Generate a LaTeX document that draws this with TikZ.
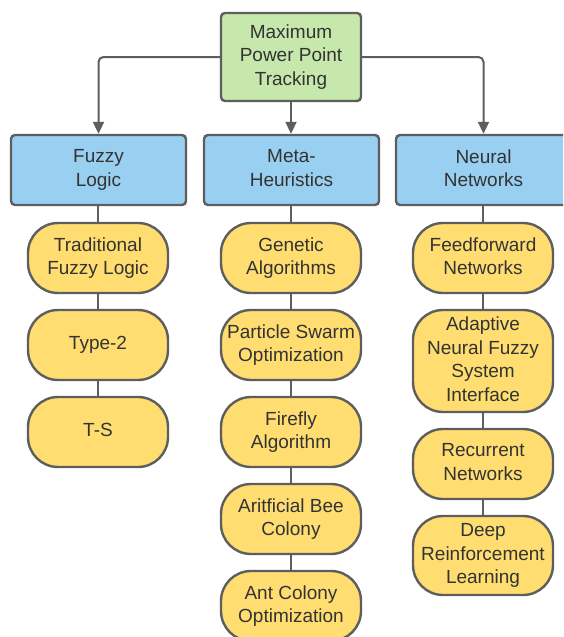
\documentclass[tikz,border=0pt]{standalone}
\usepackage{fontspec}
\setmainfont{Liberation Sans}
\usetikzlibrary{arrows.meta}
\definecolor{rootfill}{HTML}{C7E8AC}
\definecolor{catfill}{HTML}{99D0F2}
\definecolor{leaffill}{HTML}{FFDD71}
\definecolor{edge}{HTML}{5E5E5E}
\definecolor{txt}{HTML}{333333}
\begin{document}
\begin{tikzpicture}[x=1pt,y=-1pt,
  box/.style={draw=edge, line width=2.4pt, align=center, inner sep=0pt,
    text=txt, font=\fontsize{19}{23.5}\selectfont,
    execute at end node={\vphantom{g}}},
  rootbox/.style={box, fill=rootfill, minimum width=140pt, minimum height=88pt, rounded corners=4pt},
  catbox/.style={box, fill=catfill, minimum width=175pt, minimum height=70pt, rounded corners=4pt},
  leafbox/.style={box, fill=leaffill, minimum width=140pt, minimum height=70pt, rounded corners=30pt},
  conn/.style={draw=edge, line width=2pt, rounded corners=5pt},
  arr/.style={conn, -{Triangle[length=12pt, width=11pt]}}
]
\clip (0,0) rectangle (563,637);
\useasboundingbox (0,0) rectangle (563,637);
\fill[white] (0,0) rectangle (563,637);

\node[rootbox] (root) at (291,57) {Maximum\\Power Point\\Tracking};

\node[catbox] (fl) at (98.5,170) {Fuzzy\\Logic};
\node[catbox] (mh) at (291.5,170) {Meta-\\Heuristics};
\node[catbox] (nn) at (483.5,170) {Neural\\Networks};

\node[leafbox] (f1) at (98,258) {Traditional\\Fuzzy Logic};
\node[leafbox] (f2) at (98,345) {Type-2};
\node[leafbox] (f3) at (98,432) {T-S};

\node[leafbox] (m1) at (291,258) {Genetic\\Algorithms};
\node[leafbox] (m2) at (291,345) {Particle Swarm\\Optimization};
\node[leafbox] (m3) at (291,432) {Firefly\\Algorithm};
\node[leafbox] (m4) at (291,519) {Aritficial Bee\\Colony};
\node[leafbox] (m5) at (291,606) {Ant Colony\\Optimization};

\node[leafbox] (n1) at (483,258) {Feedforward\\Networks};
\node[leafbox, minimum height=102pt] (n2) at (483,361) {Adaptive\\Neural Fuzzy\\System\\Interface};
\node[leafbox] (n3) at (483,464) {Recurrent\\Networks};
\node[leafbox, minimum height=79pt] (n4) at (483,555.5) {Deep\\Reinforcement\\Learning};

\draw[arr] (root.west) -- (root.west -| fl.north) -- (fl.north);
\draw[arr] (root.east) -- (root.east -| nn.north) -- (nn.north);
\draw[arr] (root.south) -- (root.south |- mh.north);

\draw[conn] (fl.south -| f1.north) -- (f1.north);
\draw[conn] (f1) -- (f2);
\draw[conn] (f2) -- (f3);

\draw[conn] (mh.south -| m1.north) -- (m1.north);
\draw[conn] (m1) -- (m2);
\draw[conn] (m2) -- (m3);
\draw[conn] (m3) -- (m4);
\draw[conn] (m4) -- (m5);

\draw[conn] (nn.south -| n1.north) -- (n1.north);
\draw[conn] (n1) -- (n2);
\draw[conn] (n2) -- (n3);
\draw[conn] (n3) -- (n4);
\end{tikzpicture}
\end{document}
